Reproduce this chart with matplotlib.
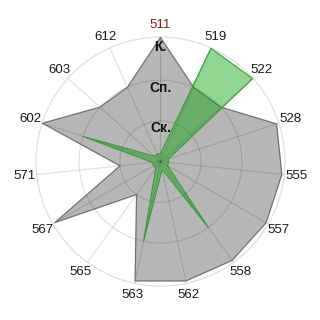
import numpy as np
import matplotlib
matplotlib.use("Agg")
import matplotlib.pyplot as plt

categories = ["511", "519", "522", "528", "555", "557", "558", "562",
              "563", "565", "567", "571", "602", "603", "612"]
gray_values = [3.05, 2, 2, 3, 3, 3, 3, 3, 3, 1, 3, 1, 3.05, 2, 2]
green_values = [0.2, 3.05, 3.05, 0.2, 0.2, 0.2, 2, 0.2,
                2, 0.2, 0.2, 0.2, 2, 0.2, 0.2]
level_labels = ["Ск.", "Сп.", "К."]
level_values = [1, 2, 3]

plt.rcParams['font.family'] = ['Liberation Sans', 'DejaVu Sans']

fig = plt.figure(figsize=(3.2, 3.2), dpi=100)
ax = fig.add_axes([0.1125, 0.106, 0.778, 0.778], projection='polar')
ax.set_theta_zero_location('N')
ax.set_theta_direction(-1)

n = len(categories)
angles = np.linspace(0, 2 * np.pi, n, endpoint=False)
ang_c = np.concatenate([angles, angles[:1]])

g = np.array(gray_values + gray_values[:1])
gr = np.array(green_values + green_values[:1])

ax.fill(ang_c, g, color='#b7b7b7', zorder=2, lw=0)
ax.plot(ang_c, g, color='#707070', lw=0.9, zorder=3)
ax.fill(ang_c, gr, color='#00a000', alpha=0.43, zorder=4, lw=0)
ax.plot(ang_c, gr, color='#3c9c3c', lw=0.8, zorder=5)

ax.set_ylim(0, 3.06)
ax.set_yticks(level_values[:-1])
ax.set_yticklabels([])
ax.set_xticks(angles)
ax.set_xticklabels(categories, fontsize=9.5, color='#1a1a1a')
ax.get_xticklabels()[0].set_color('#8b1a1a')
ax.tick_params(axis='x', pad=1.5, length=0)
ax.set_axisbelow(False)
ax.grid(True, color='black', alpha=0.13, lw=0.8)
ax.spines['polar'].set_color('#dcdcdc')
ax.spines['polar'].set_linewidth(0.8)

for lab, v in zip(level_labels, level_values):
    ax.text(0, v - 0.18, lab, ha='center', va='center', fontsize=10,
            fontweight='bold', color='#111111', zorder=6)

fig.savefig('out.png', dpi=100)
